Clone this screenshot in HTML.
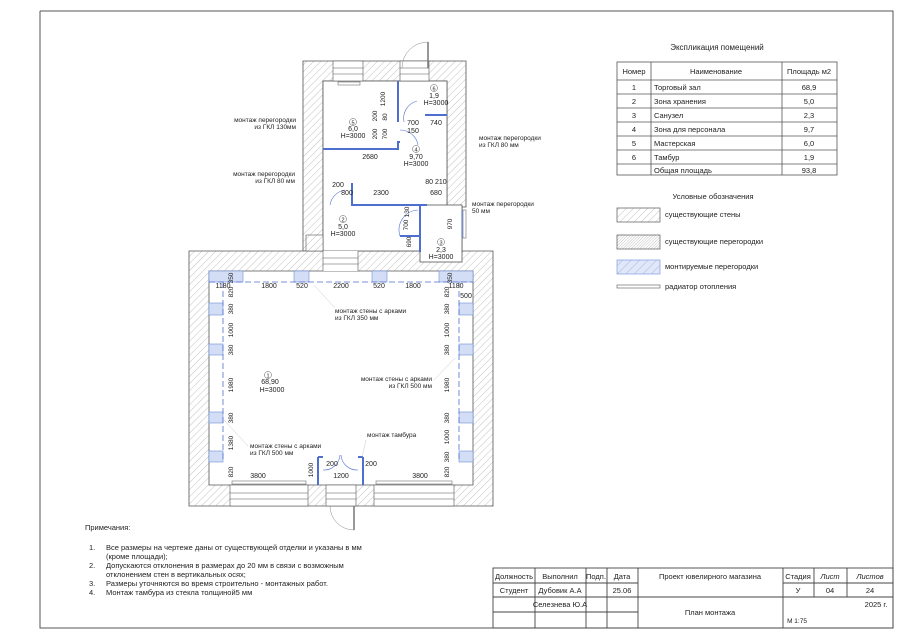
<!DOCTYPE html>
<html><head><meta charset="utf-8"><style>
html,body{margin:0;padding:0;background:#fff}
svg{display:block}
text{font-family:"Liberation Sans",sans-serif;fill:#222}
</style></head><body>
<svg width="900" height="638" viewBox="0 0 900 638" xmlns="http://www.w3.org/2000/svg">
<defs>
<pattern id="h" width="5" height="5" patternUnits="userSpaceOnUse" patternTransform="rotate(45)"><rect width="5" height="5" fill="#fff"/><line x1="0" y1="0" x2="0" y2="5" stroke="#999" stroke-width="0.6"/></pattern>
<pattern id="hd" width="2" height="2" patternUnits="userSpaceOnUse" patternTransform="rotate(45)"><rect width="2" height="2" fill="#fff"/><line x1="0" y1="0" x2="0" y2="2" stroke="#999" stroke-width="0.6"/></pattern>
<pattern id="hb" width="6" height="6" patternUnits="userSpaceOnUse" patternTransform="rotate(45)"><rect width="6" height="6" fill="#dfe7f8"/><line x1="0" y1="0" x2="0" y2="6" stroke="#8fa8e0" stroke-width="0.8"/></pattern>
</defs>
<!-- frame -->
<polyline points="40,11 893,11 893,628 40,628 40,11" fill="none" stroke="#555" stroke-width="1"/>

<!-- upper building walls -->
<path d="M303,61 H466 V207 H462 V251 H447 V207 H447 V81 H323 V251 H303 Z" fill="url(#h)" stroke="#555" stroke-width="0.8"/>
<!-- lower building walls -->
<path d="M189,251 H493 V506 H189 Z M209,271 V485 H473 V271 Z" fill="url(#h)" stroke="#555" stroke-width="0.8" fill-rule="evenodd"/>
<!-- inner areas white -->
<rect x="323" y="81" width="124" height="170" fill="#fff" stroke="#555" stroke-width="0.8"/>
<rect x="420" y="205" width="42" height="57" fill="#fff" stroke="#555" stroke-width="0.8"/>
<rect x="323" y="251" width="35" height="20" fill="#fff"/>
<line x1="323" y1="251" x2="323" y2="271" stroke="#555" stroke-width="0.6"/>
<line x1="358" y1="251" x2="358" y2="271" stroke="#555" stroke-width="0.6"/>
<line x1="323" y1="258" x2="358" y2="258" stroke="#555" stroke-width="0.5"/>
<line x1="323" y1="264" x2="358" y2="264" stroke="#555" stroke-width="0.5"/>
<rect x="306" y="235" width="17" height="16" fill="url(#h)" stroke="#555" stroke-width="0.6"/>
<!-- top windows/door -->
<rect x="333" y="61" width="30" height="20" fill="#fff" stroke="#555" stroke-width="0.6"/>
<line x1="333" y1="68" x2="363" y2="68" stroke="#555" stroke-width="0.5"/><line x1="333" y1="74" x2="363" y2="74" stroke="#555" stroke-width="0.5"/>
<rect x="338" y="82" width="22" height="3" fill="#fff" stroke="#555" stroke-width="0.5"/>
<rect x="400" y="61" width="29" height="20" fill="#fff" stroke="#555" stroke-width="0.6"/>
<line x1="400" y1="68" x2="429" y2="68" stroke="#555" stroke-width="0.5"/><line x1="400" y1="74" x2="429" y2="74" stroke="#555" stroke-width="0.5"/>
<line x1="428" y1="42" x2="428" y2="68" stroke="#777" stroke-width="1.5"/>
<path d="M428,42 A26,26 0 0 0 402,68" fill="none" stroke="#888" stroke-width="0.5"/>
<rect x="463" y="210" width="3" height="28" fill="#fff" stroke="#555" stroke-width="0.5"/>
<!-- lower bottom windows/door -->
<rect x="230" y="485" width="78" height="21" fill="#fff" stroke="#555" stroke-width="0.6"/>
<line x1="230" y1="493" x2="308" y2="493" stroke="#555" stroke-width="0.5"/><line x1="230" y1="499" x2="308" y2="499" stroke="#555" stroke-width="0.5"/>
<rect x="232" y="481" width="74" height="3" fill="#fff" stroke="#555" stroke-width="0.5"/>
<rect x="374" y="485" width="80" height="21" fill="#fff" stroke="#555" stroke-width="0.6"/>
<line x1="374" y1="493" x2="454" y2="493" stroke="#555" stroke-width="0.5"/><line x1="374" y1="499" x2="454" y2="499" stroke="#555" stroke-width="0.5"/>
<rect x="376" y="481" width="76" height="3" fill="#fff" stroke="#555" stroke-width="0.5"/>
<rect x="326" y="485" width="30" height="21" fill="#fff" stroke="#555" stroke-width="0.6"/>
<line x1="326" y1="493" x2="356" y2="493" stroke="#555" stroke-width="0.5"/><line x1="326" y1="499" x2="356" y2="499" stroke="#555" stroke-width="0.5"/>
<line x1="354" y1="506" x2="354" y2="530" stroke="#777" stroke-width="1.5"/>
<path d="M354,530 A24,24 0 0 1 330,506" fill="none" stroke="#888" stroke-width="0.5"/>
<!-- pilasters -->
<g fill="#d3def6" stroke="#6f8fd6" stroke-width="0.6">
<rect x="209" y="271" width="34" height="11"/><rect x="294" y="271" width="15" height="11"/><rect x="372" y="271" width="15" height="11"/><rect x="439" y="271" width="34" height="11"/>
<rect x="209" y="303" width="14" height="12"/><rect x="209" y="344" width="14" height="11"/><rect x="209" y="412" width="14" height="11"/><rect x="209" y="451" width="14" height="11"/>
<rect x="459" y="303" width="14" height="12"/><rect x="459" y="344" width="14" height="11"/><rect x="459" y="412" width="14" height="11"/><rect x="459" y="451" width="14" height="11"/>
</g>
<g stroke="#4f6fd0" stroke-width="0.8" stroke-dasharray="6,3" fill="none">
<line x1="209" y1="282" x2="473" y2="282"/><line x1="223" y1="282" x2="223" y2="462"/><line x1="459" y1="282" x2="459" y2="462"/>
</g>
<!-- blue partitions -->
<g stroke="#4f6fd0" stroke-width="2" fill="none">
<polyline points="323,149 398,149 398,142 400,142"/>
<line x1="398" y1="81" x2="398" y2="122"/>
<line x1="425" y1="115" x2="447" y2="115"/>
<polyline points="352,183 352,205 427,205"/>
<polyline points="420,205 420,252"/>
<polyline points="400,236 420,236"/>
<line x1="318" y1="457" x2="318" y2="485"/><line x1="363" y1="457" x2="363" y2="485"/>
<line x1="318" y1="457" x2="323" y2="457"/><line x1="358" y1="457" x2="363" y2="457"/>
<line x1="462" y1="210" x2="462" y2="238" stroke-width="1"/>
</g>
<g fill="none" stroke="#4f6fd0" stroke-width="0.6">
<path d="M404,122 A18,18 0 0 1 417,101"/><path d="M400,130 A18,18 0 0 1 418,145"/>
<path d="M330,205 A18,18 0 0 1 345,190"/><path d="M400,236 A20,20 0 0 1 418,210"/>
<path d="M323,470 A16,16 0 0 0 340,455"/><path d="M358,470 A16,16 0 0 1 341,455"/>
</g>
<!-- room labels -->
<g font-size="7" text-anchor="middle">
<circle cx="353" cy="122" r="3.5" fill="none" stroke="#555" stroke-width="0.5"/><text x="353" y="124.5" font-size="5.5">5</text>
<text x="353" y="131">6,0</text><text x="353" y="138">H=3000</text>
<circle cx="434" cy="88" r="3.5" fill="none" stroke="#555" stroke-width="0.5"/><text x="434" y="90.5" font-size="5.5">6</text>
<text x="434" y="98">1,9</text><text x="436" y="105">H=3000</text>
<circle cx="416" cy="149" r="3.5" fill="none" stroke="#555" stroke-width="0.5"/><text x="416" y="151.5" font-size="5.5">4</text>
<text x="416" y="159">9,70</text><text x="416" y="166">H=3000</text>
<circle cx="343" cy="219" r="3.5" fill="none" stroke="#555" stroke-width="0.5"/><text x="343" y="221.5" font-size="5.5">2</text>
<text x="343" y="229">5,0</text><text x="343" y="236">H=3000</text>
<circle cx="441" cy="242" r="3.5" fill="none" stroke="#555" stroke-width="0.5"/><text x="441" y="244.5" font-size="5.5">3</text>
<text x="441" y="252">2,3</text><text x="441" y="259">H=3000</text>
<circle cx="268" cy="375" r="3.5" fill="none" stroke="#555" stroke-width="0.5"/><text x="268" y="377.5" font-size="5.5">1</text>
<text x="270" y="384">68,90</text><text x="272" y="392">H=3000</text>
</g>
<!-- dimensions -->
<g font-size="7" text-anchor="middle">
<text x="223" y="288">1180</text><text x="269" y="288">1800</text><text x="302" y="288">520</text><text x="341" y="288">2200</text><text x="379" y="288">520</text><text x="413" y="288">1800</text><text x="456" y="288">1180</text>
<text x="258" y="478">3800</text><text x="341" y="478">1200</text><text x="420" y="478">3800</text>
<text x="332" y="466">200</text><text x="371" y="466">200</text><text x="466" y="298">500</text>
<text x="370" y="159">2680</text><text x="381" y="195">2300</text><text x="436" y="184">80 210</text><text x="436" y="195">680</text>
<text x="338" y="187">200</text><text x="347" y="195">800</text>
<text x="413" y="125">700</text><text x="436" y="125">740</text><text x="413" y="133">150</text>
</g>
<g font-size="6.5" text-anchor="middle">
<text transform="translate(233,278) rotate(-90)">350</text><text transform="translate(452,278) rotate(-90)">350</text>
<text transform="translate(233,292) rotate(-90)">820</text><text transform="translate(233,330) rotate(-90)">1000</text><text transform="translate(233,350) rotate(-90)">380</text><text transform="translate(233,385) rotate(-90)">1980</text><text transform="translate(233,418) rotate(-90)">380</text><text transform="translate(233,443) rotate(-90)">1380</text><text transform="translate(233,472) rotate(-90)">820</text><text transform="translate(233,309) rotate(-90)">380</text>
<text transform="translate(449,292) rotate(-90)">820</text><text transform="translate(449,309) rotate(-90)">380</text><text transform="translate(449,330) rotate(-90)">1000</text><text transform="translate(449,350) rotate(-90)">380</text><text transform="translate(449,385) rotate(-90)">1980</text><text transform="translate(449,418) rotate(-90)">380</text><text transform="translate(449,437) rotate(-90)">1000</text><text transform="translate(449,457) rotate(-90)">380</text><text transform="translate(449,472) rotate(-90)">820</text>
<text transform="translate(313,470) rotate(-90)">1000</text>
<text transform="translate(385,99) rotate(-90)">1200</text><text transform="translate(377,116) rotate(-90)">200</text><text transform="translate(387,117) rotate(-90)">80</text><text transform="translate(377,134) rotate(-90)">200</text><text transform="translate(387,134) rotate(-90)">700</text>
<text transform="translate(409,212) rotate(-90)">130</text><text transform="translate(408,225) rotate(-90)">700</text><text transform="translate(411,242) rotate(-90)">690</text><text transform="translate(452,224) rotate(-90)">970</text>
</g>
<!-- annotations -->
<g font-size="6.5">
<text x="296" y="122" text-anchor="end">монтаж перегородки</text><text x="296" y="129" text-anchor="end">из ГКЛ 130мм</text>
<text x="295" y="176" text-anchor="end">монтаж перегородки</text><text x="295" y="183" text-anchor="end">из ГКЛ 80 мм</text>
<text x="479" y="140">монтаж перегородки</text><text x="479" y="147">из ГКЛ 80 мм</text>
<text x="472" y="206">монтаж перегородки</text><text x="472" y="213">50 мм</text>
<text x="335" y="313">монтаж стены с арками</text><text x="335" y="320">из ГКЛ 350 мм</text>
<text x="432" y="381" text-anchor="end">монтаж стены с арками</text><text x="432" y="388" text-anchor="end">из ГКЛ 500 мм</text>
<text x="250" y="448">монтаж стены с арками</text><text x="250" y="455">из ГКЛ 500 мм</text>
<text x="367" y="437">монтаж тамбура</text>
</g>
<g stroke="#bbb" stroke-width="0.4" fill="none">
<line x1="314" y1="285" x2="335" y2="308"/><line x1="224" y1="420" x2="248" y2="446"/><line x1="366" y1="440" x2="362" y2="457"/><line x1="434" y1="380" x2="455" y2="358"/>
</g>
<!-- explication table -->
<text x="717" y="50" font-size="8" text-anchor="middle">Экспликация помещений</text>
<g stroke="#555" stroke-width="0.8" fill="none">
<rect x="617" y="62" width="220" height="113"/>
<line x1="651" y1="62" x2="651" y2="175"/><line x1="782" y1="62" x2="782" y2="175"/>
<line x1="617" y1="80" x2="837" y2="80"/><line x1="617" y1="94" x2="837" y2="94"/><line x1="617" y1="108" x2="837" y2="108"/><line x1="617" y1="122" x2="837" y2="122"/><line x1="617" y1="136" x2="837" y2="136"/><line x1="617" y1="150" x2="837" y2="150"/><line x1="617" y1="164" x2="837" y2="164"/>
</g>
<g font-size="7.5">
<text x="634" y="74" text-anchor="middle">Номер</text><text x="716" y="74" text-anchor="middle">Наименование</text><text x="809" y="74" text-anchor="middle">Площадь м2</text>
<text x="634" y="90" text-anchor="middle">1</text><text x="654" y="90">Торговый зал</text><text x="809" y="90" text-anchor="middle">68,9</text>
<text x="634" y="104" text-anchor="middle">2</text><text x="654" y="104">Зона хранения</text><text x="809" y="104" text-anchor="middle">5,0</text>
<text x="634" y="118" text-anchor="middle">3</text><text x="654" y="118">Санузел</text><text x="809" y="118" text-anchor="middle">2,3</text>
<text x="634" y="132" text-anchor="middle">4</text><text x="654" y="132">Зона для персонала</text><text x="809" y="132" text-anchor="middle">9,7</text>
<text x="634" y="146" text-anchor="middle">5</text><text x="654" y="146">Мастерская</text><text x="809" y="146" text-anchor="middle">6,0</text>
<text x="634" y="160" text-anchor="middle">6</text><text x="654" y="160">Тамбур</text><text x="809" y="160" text-anchor="middle">1,9</text>
<text x="654" y="173">Общая площадь</text><text x="809" y="173" text-anchor="middle">93,8</text>
</g>
<!-- legend -->
<text x="713" y="199" font-size="7.5" text-anchor="middle">Условные обозначения</text>
<rect x="617" y="208" width="43" height="14" fill="url(#h)" stroke="#555" stroke-width="0.7"/>
<rect x="617" y="235" width="43" height="14" fill="url(#hd)" stroke="#555" stroke-width="0.7"/>
<rect x="617" y="260" width="43" height="14" fill="url(#hb)" stroke="#7f9ce0" stroke-width="0.7"/>
<rect x="617" y="285" width="43" height="3" fill="#fff" stroke="#555" stroke-width="0.6"/>
<g font-size="7.5"><text x="665" y="217">существующие стены</text><text x="665" y="244">существующие перегородки</text><text x="665" y="269">монтируемые перегородки</text><text x="665" y="289">радиатор отопления</text></g>
<!-- notes -->
<g font-size="7.5">
<text x="85" y="530">Примечания:</text>
<text x="89" y="550">1.</text><text x="106" y="550">Все размеры на чертеже даны от существующей отделки и указаны в мм</text><text x="106" y="559">(кроме площади);</text>
<text x="89" y="568">2.</text><text x="106" y="568">Допускаются отклонения в размерах до 20 мм в связи с возможным</text><text x="106" y="577">отклонением стен в вертикальных осях;</text>
<text x="89" y="586">3.</text><text x="106" y="586">Размеры уточняются во время строительно - монтажных работ.</text>
<text x="89" y="595">4.</text><text x="106" y="595">Монтаж тамбура из стекла толщиной5 мм</text>
</g>
<!-- title block -->
<g stroke="#444" stroke-width="0.9" fill="none">
<rect x="493" y="568" width="400" height="60"/>
<line x1="493" y1="583" x2="638" y2="583"/><line x1="783" y1="583" x2="893" y2="583"/>
<line x1="493" y1="597" x2="893" y2="597"/><line x1="493" y1="612" x2="638" y2="612"/>
<line x1="535" y1="568" x2="535" y2="628"/><line x1="586" y1="568" x2="586" y2="628"/><line x1="607" y1="568" x2="607" y2="628"/><line x1="638" y1="568" x2="638" y2="628"/><line x1="783" y1="568" x2="783" y2="628"/>
<line x1="814" y1="568" x2="814" y2="597"/><line x1="847" y1="568" x2="847" y2="597"/>
</g>
<g font-size="7.5" text-anchor="middle">
<text x="514" y="579">Должность</text><text x="560" y="579">Выполнил</text><text x="596" y="579">Подп.</text><text x="622" y="579">Дата</text><text x="710" y="579">Проект ювелирного магазина</text>
<text x="798" y="579">Стадия</text><text x="830" y="579" font-style="italic">Лист</text><text x="870" y="579" font-style="italic">Листов</text>
<text x="514" y="593">Студент</text><text x="560" y="593">Дубовик А.А</text><text x="622" y="593">25.06</text><text x="798" y="593">У</text><text x="830" y="593">04</text><text x="870" y="593">24</text>
<text x="560" y="607">Селезнева Ю.А</text><text x="710" y="615">План монтажа</text>
<text x="876" y="607">2025 г.</text><text x="797" y="623" font-size="6.5">М 1:75</text>
</g>
</svg>
</body></html>
